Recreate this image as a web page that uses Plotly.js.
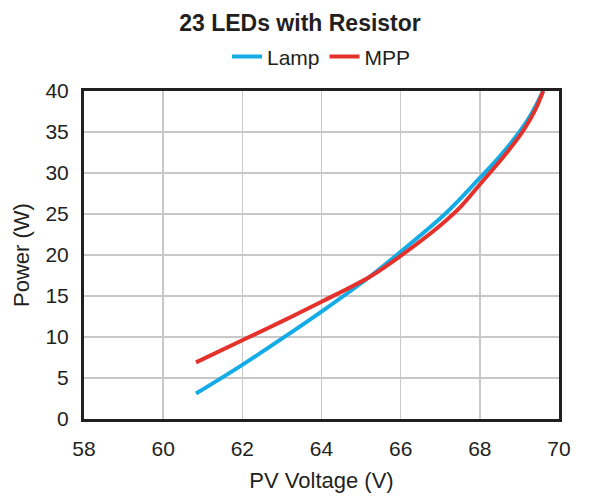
<!DOCTYPE html>
<html>
<head>
<meta charset="utf-8">
<script src="https://cdn.plot.ly/plotly-3.0.1.min.js"></script>
<style>html,body{margin:0;padding:0;background:#fff;}#chart{width:600px;height:503px;}</style>
</head>
<body>
<div id="chart"></div>
<script>
// Data
var lampVoltage = [60.83, 62.0, 63.0, 64.0, 65.22, 66.0, 67.12, 68.0, 68.5, 69.0, 69.3, 69.6];
var lampPower   = [3.1, 6.6, 9.8, 13.1, 17.35, 20.4, 25.0, 29.4, 32.0, 35.0, 37.2, 40.0];
var mppVoltage  = [60.83, 62.0, 63.0, 64.0, 65.22, 66.0, 67.0, 67.5, 68.0, 68.7, 69.1, 69.4, 69.6];
var mppPower    = [6.9, 9.6, 11.9, 14.3, 17.35, 19.9, 23.6, 25.8, 28.6, 32.6, 35.2, 37.7, 40.0];
var xTicks = [58, 60, 62, 64, 66, 68, 70];
var yTicks = [0, 5, 10, 15, 20, 25, 30, 35, 40];

var fontFam = 'Liberation Sans, Arial, sans-serif';
var traces = [
  {x: lampVoltage, y: lampPower, name: 'Lamp', mode: 'lines',
   line: {color: '#14ace6', width: 4, shape: 'spline', smoothing: 1}},
  {x: mppVoltage, y: mppPower, name: 'MPP', mode: 'lines',
   line: {color: '#e5312b', width: 4, shape: 'spline', smoothing: 1}}
];
var layout = {
  width: 600, height: 503,
  margin: {l: 84, r: 41, t: 91, b: 84},
  paper_bgcolor: '#fff', plot_bgcolor: '#fff',
  font: {family: fontFam, color: '#231f20', size: 21},
  title: {text: '<b>23 LEDs with Resistor</b>', x: 0.5, xanchor: 'center', y: 0.954, yanchor: 'middle',
          font: {size: 23, family: fontFam, color: '#231f20'}},
  showlegend: true,
  legend: {orientation: 'h', x: 0.5, xanchor: 'center', y: 1.104, yanchor: 'middle',
           font: {size: 21, family: fontFam, color: '#231f20'}, itemwidth: 30},
  xaxis: {range: [58, 70], tickvals: xTicks, ticks: '', showgrid: true, gridcolor: '#c8c8c8', gridwidth: 1.5,
          zeroline: false, showline: true, linecolor: '#231f20', linewidth: 3, mirror: true,
          tickfont: {size: 21}, ticklabelstandoff: 9,
          title: {text: 'PV Voltage (V)', font: {size: 22}, standoff: 14}},
  yaxis: {range: [0, 40], tickvals: yTicks, ticks: '', showgrid: true, gridcolor: '#c8c8c8', gridwidth: 1.5,
          zeroline: false, showline: true, linecolor: '#231f20', linewidth: 3, mirror: true,
          tickfont: {size: 21}, ticklabelstandoff: 8,
          title: {text: 'Power (W)', font: {size: 22}, standoff: 10}}
};
Plotly.newPlot('chart', traces, layout, {staticPlot: true, displayModeBar: false});
</script>
</body>
</html>
